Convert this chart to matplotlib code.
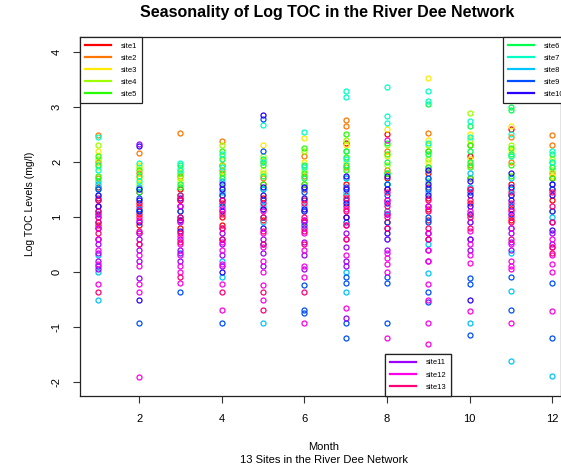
import numpy as np
import matplotlib
matplotlib.use("Agg")
import matplotlib.pyplot as plt
from matplotlib.colors import hsv_to_rgb
from matplotlib.lines import Line2D

plt.rcParams['font.family'] = ['Liberation Sans', 'DejaVu Sans']

months = list(range(1, 13))
site_names = [f"site{i}" for i in range(1, 14)]

# Log TOC values per site, one list per month (Jan..Dec)
site1 = [[1.55, 1.35, 1.2, 1.0, 0.85], [1.45, 1.25, 1.05, 0.85], [1.5, 1.3, 1.1, 0.95, 0.8],
         [1.95, 1.4, 1.25, 1.0, 0.85], [1.6, 1.35, 1.15, 0.95], [1.5, 1.3, 1.1, 0.9],
         [2.35, 1.6, 1.4, 1.2, 1.0], [2.5, 1.7, 1.5, 1.3, 1.1, 0.9],
         [1.8, 1.55, 1.35, 1.15, 0.95], [2.1, 1.7, 1.5, 1.25, 1.05],
         [2.6, 1.6, 1.4, 1.15, 0.95], [1.7, 1.5, 1.3, 1.1]]
site2 = [[2.49, 2.0, 1.7], [2.16, 1.8], [2.53, 1.75], [2.37, 1.85],
         [2.0, 1.7], [2.1, 1.75, 1.6], [2.76, 2.65, 1.9], [2.2, 1.85],
         [2.53, 2.2, 1.9], [2.3, 1.95], [2.45, 2.0], [2.49, 2.31, 1.8]]
site3 = [[2.2, 1.9], [1.95, 1.7], [1.9, 1.65], [2.1, 1.75],
         [2.31, 1.85], [2.43, 2.0], [2.3, 2.0], [2.6, 2.1],
         [3.52, 2.4, 2.0], [2.5, 2.05], [2.65, 2.2], [1.9, 1.75]]
site4 = [[2.3, 2.05], [1.9, 1.6], [1.85, 1.7], [2.3, 1.95],
         [2.1, 1.8], [2.2, 1.85], [2.4, 2.2], [2.3, 1.95],
         [2.3, 2.05], [2.88, 2.4], [2.3, 2.1], [2.05, 1.85]]
site5 = [[2.1, 1.75, 1.5], [1.85, 1.5], [1.8, 1.55, 1.4], [2.2, 1.8, 1.55],
         [1.95, 1.6], [2.25, 1.8, 1.6], [2.5, 2.09, 1.85], [2.15, 1.8, 1.6],
         [2.2, 1.85, 1.65], [2.3, 1.9, 1.7], [2.25, 1.95, 1.75], [2.0, 1.7]]
site6 = [[1.95, 1.65], [1.75, 1.45], [1.95, 1.6], [2.05, 1.7],
         [2.05, 1.75, 1.5], [1.95, 1.7], [2.2, 1.95, 1.7], [2.35, 2.0, 1.8],
         [3.05, 2.15, 1.9], [2.65, 2.2, 2.0], [3.0, 2.95, 2.15], [2.15, 1.9]]
site7 = [[2.45, 1.85], [1.98, 1.65], [1.98, 1.85], [2.15, 1.9],
         [2.67, 2.0], [2.55, 1.9], [3.28, 3.18, 2.05], [3.36, 2.84, 2.7],
         [3.29, 3.1, 2.35], [2.75, 2.45], [2.5, 2.1], [2.2, 2.0]]
site8 = [[1.6, 1.4, 0.3, 0.0, -0.51], [1.55, 1.1], [1.4, 0.9], [1.65, 1.45, 0.2, -0.1],
         [1.5, 1.2, 0.9, -0.93], [1.55, 1.2], [1.7, 1.45, 0.0, -0.36], [1.6, 1.1, 0.6],
         [1.7, 1.45, 0.5, -0.02], [1.8, 1.55, 0.9, -0.93], [1.7, 1.5, 0.34, -0.35, -1.62],
         [1.6, 1.0, -1.89]]
site9 = [[1.5, 1.3, 1.1, 0.9, 0.1], [1.35, 1.15, 0.7, -0.93], [1.1, 1.0, 0.34, -0.36],
         [1.4, 1.2, 0.6, -0.93], [2.78, 2.2, 1.3, 1.0, 0.5],
         [1.45, 1.1, 0.85, -0.24, -0.69, -0.75],
         [1.55, 1.3, 0.9, -0.1, -0.2, -0.93, -1.2], [1.6, 1.4, 0.9, -0.1, -0.2, -0.93],
         [1.7, 1.5, 1.0, 0.9, -0.36, -0.55], [1.45, 1.05, 0.6, -0.12, -0.22, -1.15],
         [1.4, 1.2, 0.8, -0.1, -0.69], [1.5, 1.1, -0.2, -1.2]]
site10 = [[1.4, 1.2, 1.05, 0.8, 0.6], [2.29, 1.5, 1.3, 1.1, 0.9, -0.51],
          [1.35, 1.2, 0.95, 0.75], [1.6, 1.5, 1.3, 1.1, 0.0], [2.85, 1.55, 1.4, 1.15, 0.8],
          [1.55, 1.35, 1.15, 0.95], [1.75, 1.5, 1.25, 1.0], [1.75, 1.5, 1.25, 1.05, 0.7],
          [1.85, 1.6, 1.4, 1.2, 0.7], [1.65, 1.4, 1.2, -0.51], [1.8, 1.55, 1.3, 1.05],
          [1.6, 1.4, 0.76]]
site11 = [[0.5, 0.35, 0.2, 0.05], [2.33, 0.6, 0.4, 0.2, -0.11], [0.6, 0.4, 0.2],
          [0.7, 0.5, 0.3, 0.1], [0.6, 0.35, 0.1], [0.8, 0.55, 0.3, 0.05],
          [0.7, 0.45, 0.2, 0.1, -0.84], [0.8, 0.6, 0.4], [0.6, 0.4, 0.2],
          [0.9, 0.6, 0.4], [0.7, 0.55, 0.4], [0.9, 0.7, 0.5]]
site12 = [[1.0, 0.8, 0.6, 0.4, 0.15, -0.22], [0.95, 0.7, 0.5, 0.3, 0.1, -0.22, -0.36, -1.91],
          [1.2, 0.9, 0.65, 0.5, 0.3, 0.1, 0.0, -0.2], [1.15, 0.8, 0.55, 0.4, 0.15, -0.22, -0.69],
          [1.1, 0.7, 0.45, 0.2, 0.0, -0.24, -0.51], [0.95, 0.7, 0.4, 0.1, -0.1, -0.93],
          [1.15, 0.85, 0.6, 0.3, -0.66], [2.4, 1.3, 1.05, 0.35, 0.25, 0.15, 0.0, -1.2],
          [1.2, 0.7, 0.4, 0.2, -0.22, -0.51, -0.93, -1.31], [1.1, 0.75, 0.5, 0.3, 0.16, -0.71],
          [1.1, 0.8, 0.5, 0.2, 0.1, 0.05, -0.93], [0.6, 0.45, 0.3, 0.15, 0.0, -0.71]]
site13 = [[1.3, 1.1, 0.9, 0.7, -0.36], [1.2, 1.0, 0.75, 0.5], [1.4, 1.3, 1.0, 0.7, 0.55, -0.1],
          [1.3, 1.05, 0.8, 0.6, -0.36], [1.25, 1.0, 0.75, 0.5, -0.36, -0.69],
          [1.25, 1.0, 0.75, 0.5, -0.36], [1.35, 1.1, 0.85, 0.6], [1.45, 1.2, 1.0, 0.8],
          [1.3, 1.1, 0.8, 0.6], [1.5, 1.3, 1.0, 0.8], [1.45, 1.25, 1.0, 0.9, 0.6],
          [1.45, 1.2, 0.9, 0.45, 0.35]]

all_sites = [site1, site2, site3, site4, site5, site6, site7, site8, site9,
             site10, site11, site12, site13]

x_ticks = [2, 4, 6, 8, 10, 12]
y_ticks = [-2, -1, 0, 1, 2, 3, 4]

W, H = 561, 468
fig = plt.figure(figsize=(W / 100, H / 100), dpi=100)
ax = fig.add_axes([80 / W, 1 - 396 / H, (560.5 - 80) / W, (396 - 37) / H])

colors = [hsv_to_rgb((i / 13, 1, 1)) for i in range(13)]

for s, (vals, col) in enumerate(zip(all_sites, colors)):
    xs, ys = [], []
    for m, mv in zip(months, vals):
        xs.extend([m] * len(mv))
        ys.extend(mv)
    ax.plot(xs, ys, linestyle='none', marker='o', markersize=3.6,
            markerfacecolor='none', markeredgecolor=col, markeredgewidth=0.9)

ax.set_xlim(0.57, 12.2)
ax.set_ylim(-2.26, 4.27)
ax.set_xticks(x_ticks)
ax.set_xticklabels([str(v) for v in x_ticks], fontsize=8)
ax.set_yticks(y_ticks)
ax.set_yticklabels([str(v).replace('\u2212', '-') for v in y_ticks], fontsize=8,
                   rotation=90, va='center')
ax.tick_params(axis='both', length=5, width=0.8, color='#333333', pad=8)
for sp in ax.spines.values():
    sp.set_linewidth(0.9)
    sp.set_color('#222222')

fig.text(327 / W, 1 - 12 / H, "Seasonality of Log TOC in the River Dee Network",
         ha='center', va='center', fontsize=11.5, fontweight='bold')
fig.text(324 / W, 1 - 447 / H, "Month", ha='center', va='center', fontsize=8)
fig.text(324 / W, 1 - 460 / H, "13 Sites in the River Dee Network",
         ha='center', va='center', fontsize=8)
fig.text(30 / W, 1 - 204 / H, "Log TOC Levels (mg/l)", ha='center', va='center',
         rotation=90, fontsize=7.5)

def make_leg(idx, loc, anchor):
    handles = [Line2D([], [], color=colors[i], lw=1.6) for i in idx]
    labels = [site_names[i] for i in idx]
    leg = ax.legend(handles, labels, loc=loc, bbox_to_anchor=anchor,
                    borderaxespad=0, fontsize=5.5, handlelength=3.4,
                    handletextpad=1.2, labelspacing=0.62, borderpad=0.7,
                    fancybox=False, framealpha=1, edgecolor='#222222')
    leg.get_frame().set_linewidth(0.9)
    ax.add_artist(leg)
    return leg

make_leg(range(0, 5), 'upper left', (0, 1))
make_leg(range(5, 10), 'upper left', ((503 - 80) / 480.5, 1))
make_leg(range(10, 13), 'lower left', ((385 - 80) / 480.5, 0))

fig.savefig("out.png", dpi=100)
